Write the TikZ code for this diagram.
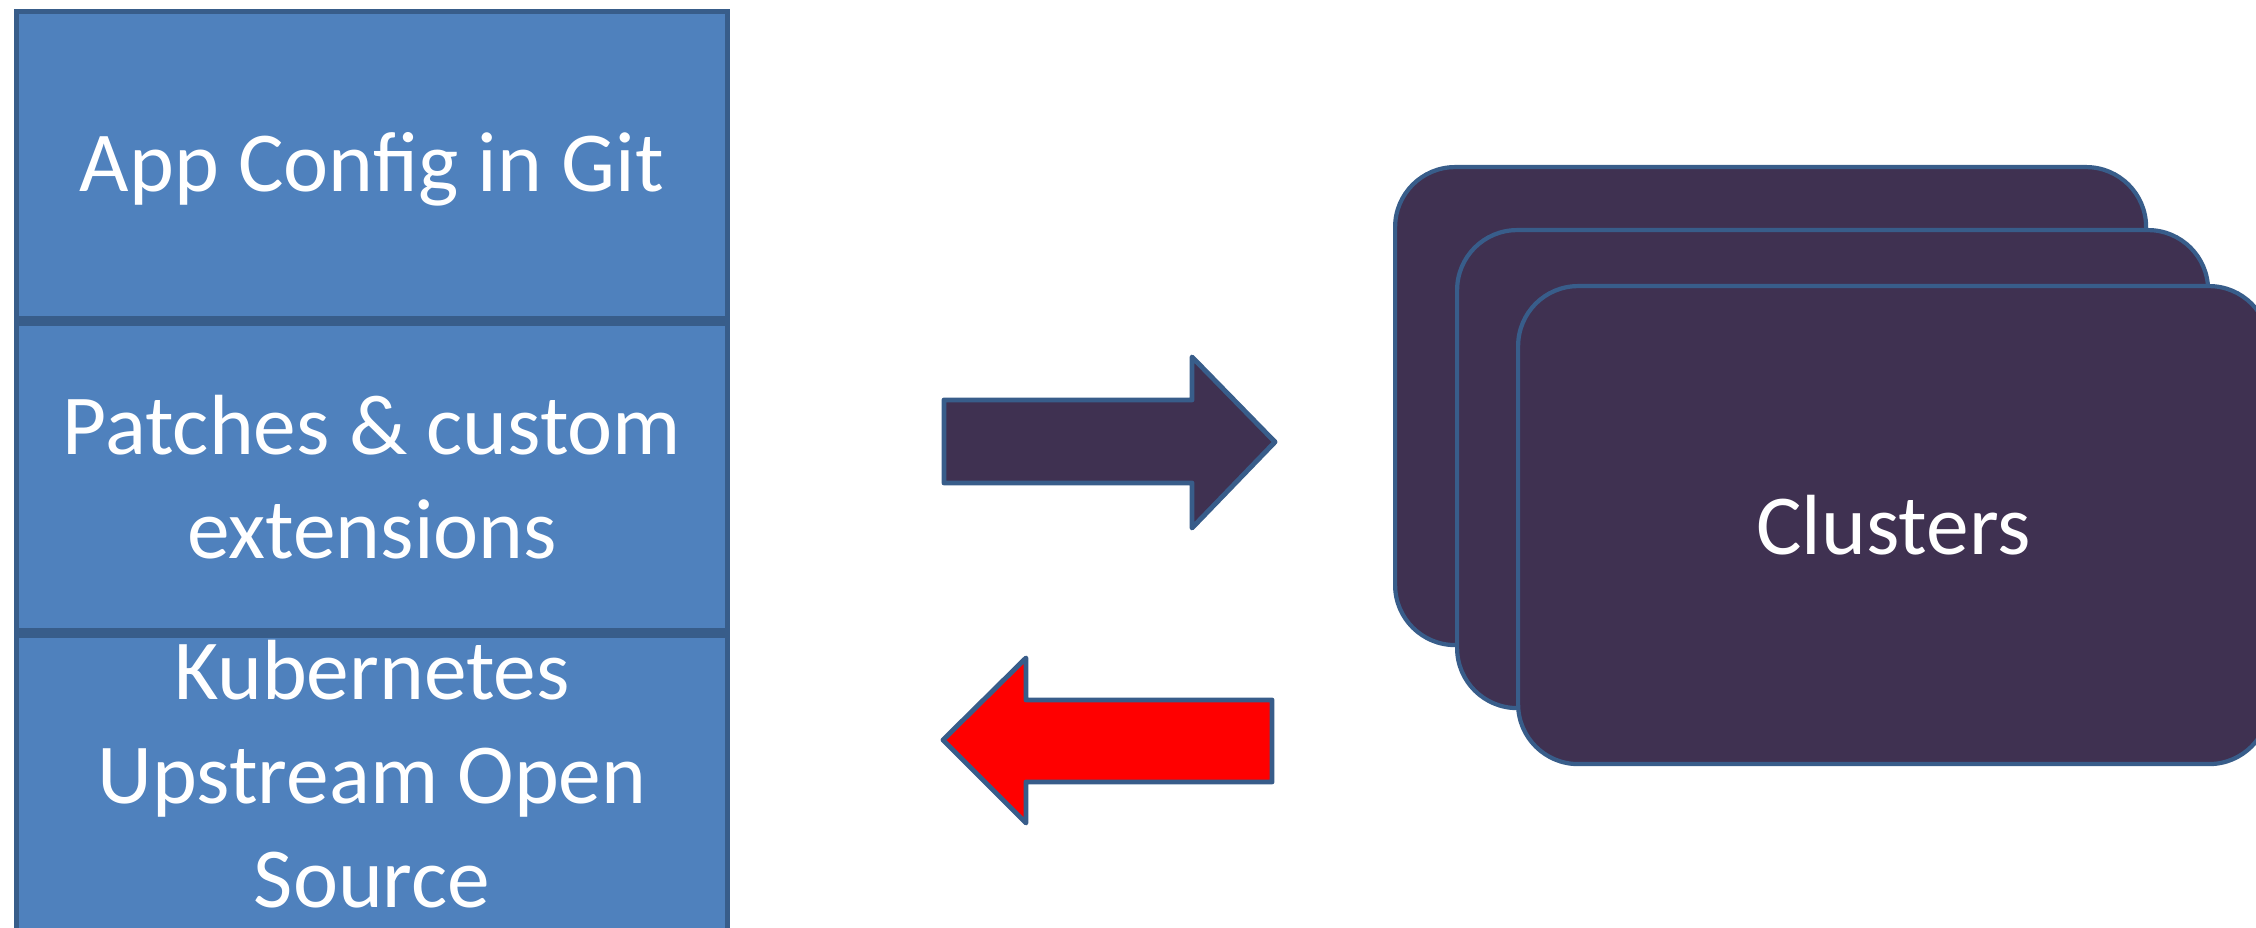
\documentclass[tikz,border=0pt]{standalone}
\usepackage{fontspec}
\setmainfont{Carlito}
\usepackage{tikz}
\usetikzlibrary{positioning}

\definecolor{layerblue}{HTML}{4F81BD}
\definecolor{edgeblue}{HTML}{385D8A}
\definecolor{clusterpurple}{HTML}{3F3151}

\begin{document}
\begin{tikzpicture}[
  font=\fontsize{24.3}{29.6}\selectfont, text=white,
  layer/.style={rectangle, draw=edgeblue, fill=layerblue, line width=1.4pt, align=center, minimum width=71.1mm, minimum height=30.7mm, inner sep=0pt},
  card/.style={rectangle, rounded corners=6mm, draw=edgeblue, fill=clusterpurple, line width=1.2pt, minimum width=75.1mm, minimum height=47.8mm},
  flow/.style={draw=edgeblue, line width=1.4pt, line join=round}
]
\useasboundingbox (0,0) rectangle (22.56,-9.28);

% the three layers of the stack
\node[layer, anchor=north west, text depth=0.5mm] (git) at (0.14,-0.09) {App Config in Git};
\node[layer, below=0pt of git] (patch) {Patches \& custom\\extensions};
\node[layer, below=0pt of patch, text depth=3mm] (kube) {Kubernetes\\Upstream Open\\Source};

% push and pull block arrows
\draw[flow, fill=clusterpurple] (9.44,-4.00) -- (11.92,-4.00) -- (11.92,-3.57) -- (12.75,-4.42)
  -- (11.92,-5.28) -- (11.92,-4.83) -- (9.44,-4.83) -- cycle;
\draw[flow, fill=red] (12.72,-7.00) -- (10.26,-7.00) -- (10.26,-6.58) -- (9.43,-7.40)
  -- (10.26,-8.23) -- (10.26,-7.82) -- (12.72,-7.82) -- cycle;

% stacked clusters
\node[card, anchor=north west] (c1) at (13.93,-1.65) {};
\node[card, below right=6.3mm and 6.2mm of c1.north west] (c2) {};
\node[card, below right=5.6mm and 6.1mm of c2.north west] (c3) {Clusters};
\end{tikzpicture}
\end{document}
